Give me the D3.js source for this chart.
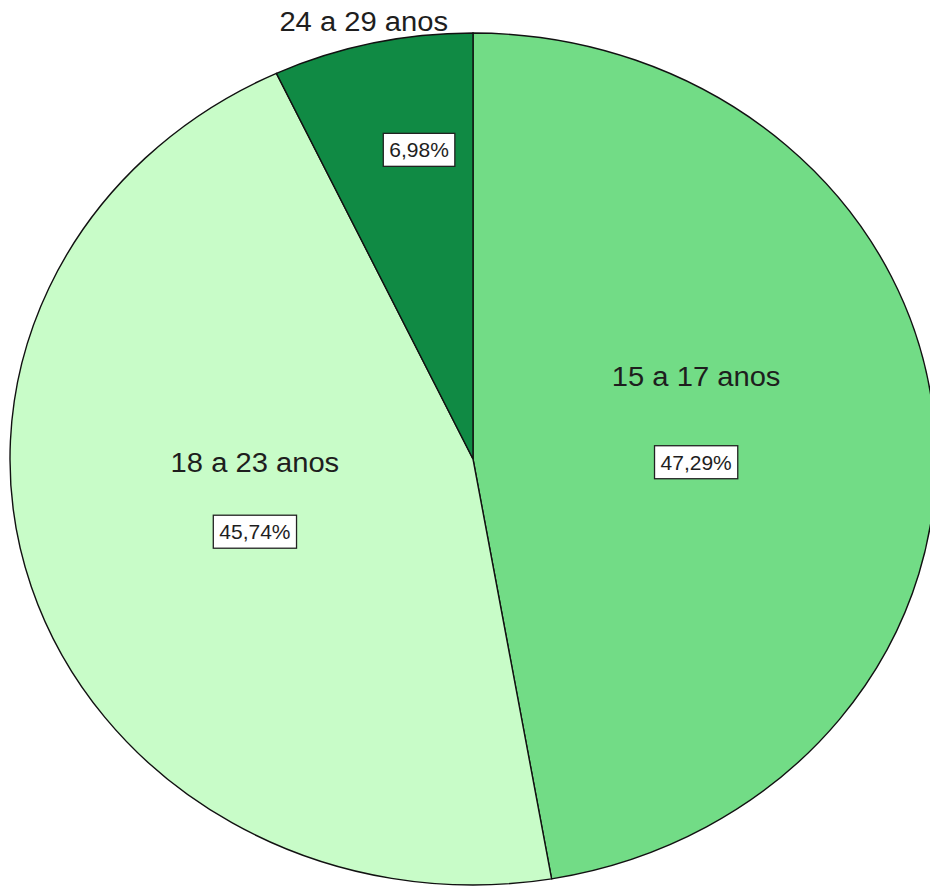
<!DOCTYPE html>
<html>
<head>
<meta charset="utf-8">
<script src="https://cdn.jsdelivr.net/npm/d3@7"></script>
<style>
  body { margin: 0; background: #fff; }
  svg { display: block; }
  text { font-family: "Liberation Sans", Arial, sans-serif; fill: #1e1e1e; }
</style>
</head>
<body>
<div id="chart"></div>
<script>
// age groups and their share (%)
const categories = ["15 a 17 anos", "18 a 23 anos", "24 a 29 anos"];
const shares = [47.29, 45.74, 6.98];
const pctLabels = ["47,29%", "45,74%", "6,98%"];
const colors = ["#72dc86", "#c8fcc8", "#108a44"];

const width = 930, height = 887;
const cx = 473, cy = 459;
const rx = 463, ry = 426;

// where the % boxes go: fraction along the slice, radial fraction, name offset
const labelPos = [
    {t: 0.534, f: 0.482, nameDy: -76},
    {t: 0.485, f: 0.501, nameDy: -60},
    {t: 0.637, f: 0.735, nameDy: null}
];

const svg = d3.select("#chart").append("svg")
    .attr("width", width)
    .attr("height", height);

const pie = d3.pie().sort(null).value(d => d.value);
const data = pie(categories.map((c, i) => ({name: c, value: shares[i], pct: pctLabels[i], color: colors[i]})));

const arc = d3.arc().innerRadius(0).outerRadius(rx);

const g = svg.append("g")
    .attr("transform", `translate(${cx},${cy}) scale(1,${ry / rx})`);

g.selectAll("path")
    .data(data)
    .enter()
    .append("path")
    .attr("d", arc)
    .attr("fill", d => d.data.color)
    .attr("stroke", "#111")
    .attr("stroke-width", 1.4)
    .attr("vector-effect", "non-scaling-stroke");

function pointAt(angle, f) {
    return [cx + Math.sin(angle) * rx * f, cy - Math.cos(angle) * ry * f];
}

const labels = svg.append("g");

data.forEach((d, i) => {
    const lp = labelPos[i];
    const a = d.startAngle + (d.endAngle - d.startAngle) * lp.t;
    const [x, y] = pointAt(a, lp.f);

    const box = labels.append("g").attr("transform", `translate(${x},${y})`);
    const t = box.append("text")
        .attr("text-anchor", "middle")
        .attr("y", 7.5)
        .attr("font-size", 21)
        .text(d.data.pct);
    const bb = t.node().getBBox();
    box.insert("rect", "text")
        .attr("x", bb.x - 6)
        .attr("y", -16.5)
        .attr("width", bb.width + 12)
        .attr("height", 33)
        .attr("fill", "#fff")
        .attr("stroke", "#222")
        .attr("stroke-width", 1.3);

    // category name: inside above the box for big slices, above the pie for the small one
    let nx, ny;
    if (lp.nameDy !== null) {
        nx = x; ny = y + lp.nameDy;
    } else {
        nx = (pointAt(d.startAngle, 1)[0] + cx) / 2 - 11;
        ny = cy - ry - 2;
    }
    labels.append("text")
        .attr("transform", `translate(${nx},${ny}) scale(1.08,1)`)
        .attr("text-anchor", "middle")
        .attr("font-size", 27)
        .text(d.data.name);
});
</script>
</body>
</html>
